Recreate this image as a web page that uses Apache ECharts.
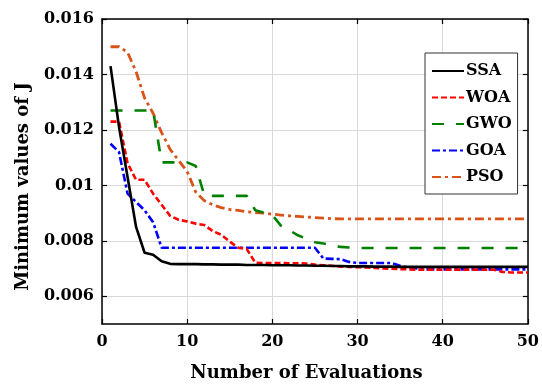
<!DOCTYPE html>
<html>
<head>
<meta charset="utf-8">
<script src="https://cdn.jsdelivr.net/npm/echarts@6/dist/echarts.min.js"></script>
<style>
html,body{margin:0;padding:0;background:#fff;}
#chart{width:542px;height:387px;}
</style>
</head>
<body>
<div id="chart"></div>
<script>
var evaluations = [1,2,3,4,5,6,7,8,9,10,11,12,13,14,15,16,17,18,19,20,21,22,23,24,25,26,27,28,29,30,31,32,33,34,35,36,37,38,39,40,41,42,43,44,45,46,47,48,49,50];
var seriesNames = ['SSA','WOA','GWO','GOA','PSO'];
var ssa = [0.0143,0.0121,0.0103,0.0085,0.00757,0.0075,0.00726,0.00717,0.00716,0.00716,
           0.00716,0.00715,0.00715,0.00714,0.00714,0.00714,0.00713,0.00713,0.00713,0.00712,
           0.00712,0.00712,0.00711,0.00711,0.0071,0.0071,0.00709,0.00709,0.00708,0.00708,
           0.00708,0.00707,0.00707,0.00707,0.00706,0.00706,0.00706,0.00706,0.00706,0.00706,
           0.00706,0.00706,0.00706,0.00706,0.00706,0.00706,0.00706,0.00706,0.00706,0.00706];
var woa = [0.0123,0.0123,0.0108,0.0102,0.0102,0.0097,0.0093,0.0089,0.00876,0.0087,
           0.00862,0.00857,0.00835,0.00822,0.00797,0.00775,0.0077,0.00721,0.0072,0.0072,
           0.0072,0.00719,0.00719,0.00718,0.00714,0.00712,0.0071,0.00707,0.00706,0.00705,
           0.00704,0.00702,0.007,0.00699,0.00698,0.00697,0.00696,0.00696,0.00696,0.00696,
           0.00696,0.00696,0.00696,0.00696,0.00696,0.00696,0.00688,0.00686,0.00686,0.00686];
var gwo = [0.0127,0.0127,0.0127,0.0127,0.0127,0.0127,0.01083,0.01083,0.01083,0.01083,
           0.0107,0.00965,0.00962,0.00962,0.00962,0.00962,0.00962,0.0091,0.00902,0.00893,
           0.00855,0.00838,0.0082,0.00807,0.00795,0.0079,0.00784,0.00778,0.00776,0.00774,
           0.00774,0.00774,0.00774,0.00774,0.00774,0.00774,0.00774,0.00774,0.00774,0.00774,
           0.00774,0.00774,0.00774,0.00774,0.00774,0.00774,0.00774,0.00774,0.00774,0.00774];
var goa = [0.0115,0.0112,0.0097,0.0094,0.0091,0.00867,0.00775,0.00775,0.00775,0.00775,
           0.00775,0.00775,0.00775,0.00775,0.00775,0.00775,0.00775,0.00775,0.00775,0.00775,
           0.00775,0.00775,0.00775,0.00775,0.00775,0.00736,0.00735,0.00734,0.00724,0.0072,
           0.0072,0.0072,0.0072,0.0072,0.0071,0.00703,0.007,0.00697,0.00697,0.00697,
           0.00697,0.00697,0.00697,0.00697,0.00697,0.00697,0.00697,0.00697,0.00697,0.00697];
var pso = [0.015,0.015,0.0148,0.0141,0.01315,0.0126,0.0119,0.0113,0.0109,0.0105,
           0.00976,0.00945,0.0093,0.0092,0.00913,0.0091,0.00905,0.00902,0.009,0.00896,
           0.00893,0.0089,0.00888,0.00886,0.00884,0.00882,0.0088,0.00879,0.00879,0.00879,
           0.00879,0.00879,0.00879,0.00879,0.00879,0.00879,0.00879,0.00879,0.00879,0.00879,
           0.00879,0.00879,0.00879,0.00879,0.00879,0.00879,0.00879,0.00879,0.00879,0.00879];
var yTicks = [0.006,0.008,0.01,0.012,0.014,0.016];
var xTicks = [0,10,20,30,40,50];

var allValues = [ssa, woa, gwo, goa, pso];
var colors = ['#000000','#ff0000','#008000','#0000ff','#d95319'];
var dashes = ['solid',[6,3],[12,12],[8,3,3,3],[9,4,3,4]];
var widths = [2.6,2.6,2.6,2.6,2.8];

var FONT = 'DejaVu Serif';

var series = seriesNames.map(function(name, i){
  return {
    name: name,
    type: 'line',
    xAxisIndex: 0,
    yAxisIndex: 0,
    symbol: 'none',
    data: evaluations.map(function(x, j){ return [x, allValues[i][j]]; }),
    lineStyle: {color: colors[i], width: widths[i], type: dashes[i]},
    itemStyle: {color: colors[i]},
    z: 10 - i
  };
});

var chart = echarts.init(document.getElementById('chart'), null, {renderer: 'canvas'});
chart.setOption({
  animation: false,
  backgroundColor: '#ffffff',
  grid: {left: 102, right: 11, top: 19, bottom: 56, containLabel: false},
  legend: {
    orient: 'vertical',
    left: 425,
    top: 53,
    data: seriesNames,
    backgroundColor: '#ffffff',
    borderColor: '#333333',
    borderWidth: 1,
    borderRadius: 0,
    padding: [10, 6, 9, 6],
    itemWidth: 32,
    itemHeight: 14,
    itemGap: 10.5,
    itemStyle: {opacity: 0},
    textStyle: {fontFamily: FONT, fontWeight: 'bold', fontSize: 16, color: '#000', padding: [0,0,0,-3]}
  },
  xAxis: [{
    type: 'value',
    min: 0, max: 50, interval: 10,
    name: 'Number of Evaluations',
    nameLocation: 'middle',
    nameGap: 40,
    nameTextStyle: {fontFamily: FONT, fontWeight: 'bold', fontSize: 18, color: '#000', padding: [0, 17, 0, 0]},
    axisLine: {show: true, onZero: false, lineStyle: {color: '#000', width: 1.5}},
    axisTick: {show: true, inside: true, length: 5, lineStyle: {color: '#000', width: 1.2}},
    axisLabel: {fontFamily: FONT, fontWeight: 'bold', fontSize: 16, color: '#000', margin: 10,
      customValues: xTicks},
    splitLine: {show: true, lineStyle: {color: '#d9d9d9', width: 1}}
  },{
    type: 'value', position: 'top',
    min: 0, max: 50, interval: 10,
    axisLine: {show: true, onZero: false, lineStyle: {color: '#000', width: 1.5}},
    axisTick: {show: true, inside: true, length: 5, lineStyle: {color: '#000', width: 1.2}},
    axisLabel: {show: false},
    splitLine: {show: false}
  }],
  yAxis: [{
    type: 'value',
    min: 0.005, max: 0.016,
    name: 'Minimum values of J',
    nameLocation: 'middle',
    nameGap: 70,
    nameRotate: 90,
    nameTextStyle: {fontFamily: FONT, fontWeight: 'bold', fontSize: 18, color: '#000', padding: [0, 30, 0, 0]},
    axisLine: {show: true, onZero: false, lineStyle: {color: '#000', width: 1.5}},
    axisTick: {show: true, inside: true, length: 5, customValues: yTicks, lineStyle: {color: '#000', width: 1.2}},
    axisLabel: {fontFamily: FONT, fontWeight: 'bold', fontSize: 16, color: '#000', margin: 8,
      customValues: yTicks,
      formatter: function(v){ return String(parseFloat(v.toFixed(3))); }},
    splitLine: {show: true, lineStyle: {color: '#d9d9d9', width: 1}}
  },{
    type: 'value', position: 'right',
    min: 0.005, max: 0.016,
    axisLine: {show: true, onZero: false, lineStyle: {color: '#000', width: 1.5}},
    axisTick: {show: true, inside: true, length: 5, customValues: yTicks, lineStyle: {color: '#000', width: 1.2}},
    axisLabel: {show: false},
    splitLine: {show: false}
  }],
  series: series
});
</script>
</body>
</html>
